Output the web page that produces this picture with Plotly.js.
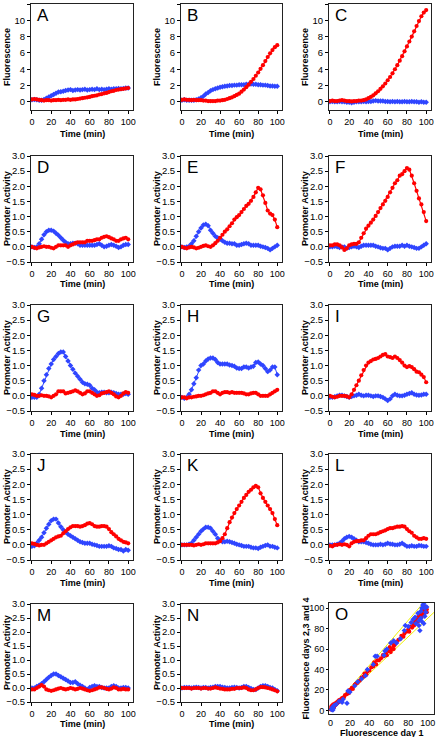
<!DOCTYPE html>
<html><head><meta charset="utf-8">
<script src="https://cdn.plot.ly/plotly-3.0.1.min.js"></script>
<style>html,body{margin:0;padding:0;background:#fff;} #chart{width:436px;height:737px;}</style>
</head><body><div id="chart"></div>
<script>
// time points (min)
const minutes = [0,2.5,5,7.5,10,12.5,15,17.5,20,22.5,25,27.5,30,32.5,35,37.5,40,42.5,45,47.5,50,52.5,55,57.5,60,62.5,65,67.5,70,72.5,75,77.5,80,82.5,85,87.5,90,92.5,95,97.5,100];

// Fluorescence panels A-C
const aBlue = [0.25,0.3,0.25,0.2,0.2,0.3,0.45,0.6,0.75,0.9,1.05,1.2,1.25,1.3,1.4,1.45,1.5,1.4,1.45,1.5,1.45,1.5,1.55,1.45,1.5,1.55,1.5,1.6,1.5,1.55,1.5,1.55,1.6,1.55,1.6,1.6,1.65,1.6,1.65,1.7,1.7];
const aRed  = [0.3,0.35,0.3,0.25,0.2,0.15,0.2,0.2,0.15,0.2,0.2,0.25,0.2,0.25,0.25,0.3,0.25,0.3,0.3,0.35,0.4,0.45,0.5,0.55,0.6,0.7,0.75,0.8,0.9,0.95,1.05,1.1,1.2,1.3,1.35,1.45,1.5,1.55,1.6,1.65,1.7];
const bBlue = [0.2,0.25,0.2,0.2,0.2,0.2,0.25,0.35,0.5,0.7,0.95,1.15,1.35,1.5,1.6,1.7,1.8,1.85,1.9,1.95,2.0,2.0,2.05,2.05,2.1,2.1,2.1,2.15,2.15,2.2,2.15,2.15,2.1,2.1,2.05,2.05,2.0,1.95,1.95,1.9,1.9];
const bRed  = [0.25,0.3,0.25,0.25,0.2,0.25,0.2,0.2,0.2,0.15,0.15,0.1,0.1,0.1,0.1,0.15,0.15,0.2,0.25,0.35,0.45,0.55,0.7,0.85,1.0,1.25,1.5,1.8,2.1,2.45,2.8,3.2,3.6,4.05,4.5,5.0,5.5,5.95,6.35,6.7,6.95];
const cBlue = [0.0,0.05,0.0,0.0,0.05,0.0,0.0,-0.05,-0.05,-0.1,-0.05,0.0,0.0,0.0,0.05,0.0,0.05,0.05,0.1,0.15,0.1,0.1,0.1,0.05,0.05,0.0,0.05,0.0,0.05,0.0,0.0,0.05,0.0,0.0,0.05,0.0,0.0,-0.05,0.0,-0.05,-0.05];
const cRed  = [0.1,0.15,0.1,0.1,0.15,0.2,0.15,0.1,0.1,0.05,0.1,0.1,0.15,0.15,0.2,0.3,0.45,0.6,0.8,1.05,1.3,1.6,1.9,2.25,2.65,3.05,3.5,4.0,4.5,5.05,5.6,6.2,6.8,7.4,8.0,8.65,9.3,9.9,10.5,10.95,11.25];

// Promoter activity panels D-N
const dBlue = [0.0,-0.02,0.0,0.1,0.25,0.4,0.5,0.55,0.55,0.52,0.45,0.38,0.3,0.22,0.15,0.1,0.1,0.12,0.12,0.1,0.05,0.05,0.05,0.05,0.05,0.05,0.05,0.08,0.1,0.05,0.0,0.02,0.05,0.08,0.05,0.02,-0.02,0.0,0.05,0.08,0.08];
const dRed  = [0.0,-0.03,-0.05,-0.02,0.0,0.02,0.0,0.0,-0.03,-0.05,0.0,0.05,0.05,0.05,0.05,0.0,0.05,0.08,0.12,0.15,0.15,0.15,0.15,0.2,0.2,0.2,0.22,0.25,0.25,0.3,0.33,0.35,0.32,0.28,0.25,0.2,0.2,0.25,0.28,0.3,0.25];
const eBlue = [0.0,-0.02,0.0,0.02,0.1,0.2,0.35,0.5,0.62,0.72,0.75,0.7,0.55,0.45,0.35,0.3,0.25,0.2,0.15,0.12,0.12,0.1,0.1,0.05,0.05,0.08,0.1,0.12,0.1,0.05,0.05,0.05,0.05,0.02,0.0,-0.02,-0.05,-0.1,-0.05,0.0,0.05];
const eRed  = [0.0,-0.03,-0.05,-0.02,0.0,-0.02,-0.05,-0.03,0.0,0.03,0.05,0.02,0.0,0.05,0.12,0.2,0.3,0.4,0.5,0.58,0.68,0.78,0.9,0.98,1.05,1.15,1.25,1.35,1.42,1.52,1.65,1.8,1.95,1.9,1.7,1.45,1.2,1.1,1.05,0.9,0.65];
const fBlue = [0.0,0.0,0.02,0.0,-0.02,0.0,0.0,-0.05,-0.02,0.0,0.02,0.0,-0.02,0.02,0.05,0.05,0.05,0.05,0.05,0.02,0.0,-0.03,-0.05,-0.05,-0.1,-0.05,0.0,0.02,0.02,0.02,0.05,0.02,0.05,0.02,0.0,-0.02,-0.05,-0.05,0.0,0.05,0.1];
const fRed  = [0.05,0.05,0.08,0.08,0.05,-0.02,-0.1,-0.05,0.05,0.08,0.1,0.1,0.15,0.3,0.45,0.6,0.7,0.8,0.9,1.02,1.15,1.28,1.4,1.52,1.65,1.8,1.95,2.1,2.2,2.35,2.4,2.5,2.6,2.55,2.35,2.1,1.85,1.6,1.4,1.15,0.85];
const gBlue = [-0.05,-0.05,-0.05,0.05,0.25,0.5,0.7,0.9,1.05,1.2,1.3,1.4,1.45,1.45,1.3,1.15,1.0,0.88,0.75,0.65,0.55,0.45,0.4,0.38,0.35,0.25,0.2,0.12,0.1,0.12,0.12,0.1,0.1,0.12,0.1,0.08,0.05,0.05,0.05,0.08,0.05];
const gRed  = [0.05,0.03,0.0,0.0,0.02,0.0,0.0,-0.02,-0.05,0.0,0.05,0.15,0.15,0.15,0.08,0.1,0.12,0.15,0.18,0.15,0.1,0.05,0.08,0.15,0.15,0.1,0.05,0.0,0.02,0.08,0.1,0.12,0.15,0.1,0.05,-0.02,-0.05,0.0,0.08,0.12,0.1];
const hBlue = [-0.05,-0.08,-0.05,0.05,0.2,0.4,0.6,0.85,1.0,1.05,1.15,1.22,1.25,1.25,1.2,1.1,1.05,1.05,1.05,1.05,1.02,1.0,0.98,0.92,0.9,0.9,0.95,0.95,0.92,0.95,0.98,1.1,1.12,1.05,1.0,0.9,0.8,0.85,0.95,0.95,0.7];
const hRed  = [-0.05,-0.05,-0.08,-0.05,-0.05,-0.03,-0.02,0.0,0.0,0.02,0.05,0.08,0.1,0.15,0.15,0.1,0.05,0.1,0.12,0.12,0.1,0.12,0.1,0.1,0.1,0.1,0.08,0.05,0.05,0.08,0.1,0.1,0.05,0.0,0.0,0.0,0.0,0.05,0.1,0.15,0.2];
const iBlue = [-0.05,-0.05,-0.03,0.0,0.02,0.02,0.0,-0.02,-0.05,-0.02,0.0,0.02,0.05,0.02,0.0,0.02,0.02,0.0,-0.02,0.0,0.0,-0.02,-0.05,-0.1,-0.15,-0.1,0.0,0.05,0.02,0.0,0.0,0.02,0.05,0.08,0.1,0.05,0.03,0.02,0.03,0.05,0.05];
const iRed  = [0.0,-0.03,-0.05,-0.03,0.0,0.0,0.0,-0.02,-0.05,0.05,0.2,0.35,0.5,0.68,0.85,1.0,1.1,1.15,1.2,1.22,1.25,1.3,1.35,1.38,1.3,1.28,1.25,1.3,1.25,1.18,1.1,1.0,0.95,0.98,0.95,0.88,0.8,0.78,0.7,0.62,0.45];
const jBlue = [-0.05,-0.03,0.05,0.15,0.25,0.4,0.55,0.68,0.8,0.85,0.85,0.72,0.6,0.5,0.42,0.35,0.3,0.25,0.2,0.15,0.1,0.08,0.05,0.05,0.05,0.02,0.0,-0.02,-0.05,-0.05,-0.05,-0.05,-0.03,-0.05,-0.1,-0.12,-0.15,-0.15,-0.2,-0.15,-0.18];
const jRed  = [0.05,0.03,0.0,-0.02,0.0,0.0,0.05,0.1,0.15,0.2,0.25,0.28,0.3,0.38,0.45,0.52,0.58,0.62,0.62,0.62,0.6,0.62,0.65,0.7,0.72,0.68,0.62,0.6,0.6,0.62,0.62,0.6,0.52,0.42,0.35,0.28,0.2,0.15,0.1,0.08,0.05];
const kBlue = [0.0,0.0,0.0,0.02,0.05,0.15,0.25,0.35,0.45,0.52,0.58,0.58,0.55,0.45,0.35,0.22,0.15,0.1,0.1,0.12,0.1,0.08,0.05,0.02,0.0,-0.02,-0.05,-0.05,-0.05,-0.08,-0.1,-0.1,-0.12,-0.08,-0.05,-0.02,0.0,-0.05,-0.05,-0.08,-0.1];
const kRed  = [0.0,0.0,0.0,0.0,0.0,-0.02,0.0,0.02,0.0,0.02,0.05,0.05,0.05,0.05,0.05,0.08,0.12,0.22,0.35,0.55,0.75,0.9,1.05,1.18,1.3,1.42,1.55,1.65,1.75,1.82,1.9,1.95,1.9,1.7,1.55,1.42,1.3,1.18,1.05,0.85,0.65];
const lBlue = [0.0,0.0,0.0,0.02,0.05,0.12,0.2,0.25,0.28,0.25,0.2,0.15,0.1,0.1,0.1,0.08,0.05,0.02,0.0,0.0,0.0,0.02,0.0,0.02,0.05,0.03,0.02,0.0,0.0,0.02,0.05,0.0,-0.05,-0.05,-0.03,-0.05,-0.05,-0.02,-0.03,-0.05,-0.05];
const lRed  = [-0.03,-0.05,0.0,0.0,0.02,0.0,0.02,0.0,-0.05,0.05,0.1,0.12,0.12,0.15,0.15,0.22,0.3,0.35,0.35,0.35,0.38,0.42,0.45,0.48,0.52,0.55,0.55,0.58,0.6,0.6,0.62,0.6,0.52,0.45,0.4,0.3,0.25,0.2,0.2,0.22,0.2];
const mBlue = [0.0,0.0,0.05,0.1,0.15,0.22,0.3,0.38,0.45,0.5,0.5,0.45,0.4,0.35,0.3,0.25,0.2,0.2,0.22,0.15,0.1,0.05,0.0,-0.05,0.02,0.05,0.08,0.05,0.05,0.02,0.0,0.0,0.0,0.05,0.08,0.05,0.0,0.0,0.02,0.02,0.0];
const mRed  = [-0.05,-0.05,0.0,0.05,0.1,0.05,-0.05,-0.08,-0.1,-0.08,-0.05,-0.02,0.0,-0.03,-0.05,-0.03,0.0,-0.02,-0.05,-0.03,0.0,-0.02,-0.05,-0.08,-0.1,-0.08,-0.05,-0.02,0.02,0.02,0.0,-0.03,-0.05,-0.02,0.02,0.0,-0.05,-0.05,-0.03,-0.05,-0.05];
const nBlue = [0.0,0.02,0.02,0.02,0.0,0.02,0.03,0.02,0.0,0.02,0.02,0.0,0.02,0.03,0.05,0.05,0.05,0.03,0.02,0.0,0.0,0.02,0.03,0.02,0.0,0.02,0.05,0.05,0.02,-0.02,-0.05,-0.05,0.0,0.05,0.08,0.08,0.05,0.02,0.0,-0.05,-0.1];
const nRed  = [0.0,0.0,0.0,0.0,-0.02,0.0,0.0,0.0,-0.02,0.0,0.0,-0.02,-0.02,0.0,0.02,0.0,-0.02,-0.03,-0.05,-0.05,-0.05,-0.03,-0.03,0.0,0.0,0.0,0.02,0.0,-0.05,-0.08,-0.08,-0.05,0.0,0.03,0.03,0.02,0.0,-0.02,-0.05,-0.08,-0.12];

// Panel O: fluorescence day 1 vs days 2,3 and 4
const oRedX = [0.5,1,1,1.5,2,2,2.5,3,3,3.5,4,4.5,5,5,6,6.5,7,7.5,8,8.5,9,10,10,11,12,13,14,15,17,18,19,20,22,23,25,26,28,30,32,34,35,37,38,40,42,44,45,47,48,50,52,54,55,57,58,58,60,61,62,63,64,65,65,66,68,70,72,73,75,76,78,80,81,82,84,85,86,87,88,89,90,90,91,92,93,94,95,95,96,96,97,97,98,98,99,99];
const oRedY = [1,2,4,3,5,1,2.5,4,6,3,5,6,5,7,6,8,7,8,9,8,10,10,9,11,12,12,13,15,16,18,17,20,22,21,25,26,27,29,32,33,36,35,38,39,42,43,47,45,49,49,51,54,53,56,59,54,58,62,57,60,66,63,60,64,67,69,70,73,72,75,77,79,77,82,81,85,83,88,86,89,87,91,93,90,94,92,96,99,94,98,97,100,98,101,99,96];
const oBlueX = [1,2,2.5,3,4,6,9,12,13,17,18,20,25,28,32,36,38,44,46,48,55,56,58,62,65,68,72,76,77,80,83,85,87,88,90,91,91,92,93,93,94,94,95,96,96,97,97,98,99];
const oBlueY = [1,3,0.5,2,5,6,9,8,11,7,19,18,24,28,31,34,40,45,53,53,54,58,60,66,68,66,70,78,83,82,86,89,91,85,95,88,83,78,97,90,100,87,103,104,85,100,92,96,101];
const guideX = [0,110];
const guideHighY = [0,121];
const guideLowY = [0,99];

const timeTicks = [0,20,40,60,80,100];
const fluorTicks = [0,2,4,6,8,10,12];
const activityTicks = [-0.5,0,0.5,1,1.5,2,2.5,3];
const scatterTicks = [0,20,40,60,80,100];

const W = 436, H = 737;
const FONT = 'Liberation Sans, Arial, sans-serif';
const BLUE = '#2f45ff', RED = '#ff0000', YELLOW = '#f0f000';
const colPx = [[31,133],[181,282],[329,431]];
const rowPx = [[4,110],[156,262],[305,411],[454,560],[604,702]];
const xTitleY = [134,284,434,583,724];

const panels = [
  {letter:'A',row:0,col:0,blue:aBlue,red:aRed},
  {letter:'B',row:0,col:1,blue:bBlue,red:bRed},
  {letter:'C',row:0,col:2,blue:cBlue,red:cRed},
  {letter:'D',row:1,col:0,blue:dBlue,red:dRed},
  {letter:'E',row:1,col:1,blue:eBlue,red:eRed},
  {letter:'F',row:1,col:2,blue:fBlue,red:fRed},
  {letter:'G',row:2,col:0,blue:gBlue,red:gRed},
  {letter:'H',row:2,col:1,blue:hBlue,red:hRed},
  {letter:'I',row:2,col:2,blue:iBlue,red:iRed},
  {letter:'J',row:3,col:0,blue:jBlue,red:jRed},
  {letter:'K',row:3,col:1,blue:kBlue,red:kRed},
  {letter:'L',row:3,col:2,blue:lBlue,red:lRed},
  {letter:'M',row:4,col:0,blue:mBlue,red:mRed},
  {letter:'N',row:4,col:1,blue:nBlue,red:nRed}
];

function baseAxis(){
  return {ticks:'outside',ticklen:3,tickwidth:1,tickcolor:'#000',showline:true,mirror:true,
    linecolor:'#222',linewidth:1,showgrid:false,zeroline:false,fixedrange:true,
    tickfont:{family:FONT,size:9.5,color:'#000'}};
}
const layout = {width:W,height:H,margin:{l:0,r:0,t:0,b:0},paper_bgcolor:'#fff',plot_bgcolor:'#fff',
  showlegend:false,font:{family:FONT,color:'#000'},annotations:[]};
const traces = [];

function addTitles(x0,x1,y0,y1,xTitle,xTy,yTitle,letter){
  layout.annotations.push({xref:'paper',yref:'paper',x:(x0+x1)/2/W,y:1-xTy/H,xanchor:'center',yanchor:'middle',
    text:'<b>'+xTitle+'</b>',showarrow:false,font:{family:FONT,size:9,color:'#000'}});
  layout.annotations.push({xref:'paper',yref:'paper',x:(x0-24)/W,y:1-(y0+y1)/2/H,xanchor:'center',yanchor:'middle',
    textangle:-90,text:'<b>'+yTitle+'</b>',showarrow:false,font:{family:FONT,size:9,color:'#000'}});
  layout.annotations.push({xref:'paper',yref:'paper',x:(x0+4)/W,y:1-(y0+11.5)/H,xanchor:'left',yanchor:'middle',
    text:letter,showarrow:false,font:{family:FONT,size:17,color:'#000'}});
}

panels.forEach((p,i)=>{
  const n = i+1, sfx = n===1?'':String(n);
  const [x0,x1] = colPx[p.col], [y0,y1] = rowPx[p.row];
  const xa = Object.assign(baseAxis(),{domain:[x0/W,x1/W],anchor:'y'+sfx,range:[-1,105],tickvals:timeTicks,
    tickfont:{family:FONT,size:9,color:'#000'}});
  const ya = Object.assign(baseAxis(),{domain:[1-y1/H,1-y0/H],anchor:'x'+sfx});
  if(p.row===0){ Object.assign(ya,{range:[-1,12],tickvals:fluorTicks}); }
  else { Object.assign(ya,{range:[-0.5,3],tickvals:activityTicks,tickformat:'.1f'}); }
  layout['xaxis'+sfx] = xa; layout['yaxis'+sfx] = ya;
  traces.push({x:minutes,y:p.blue,xaxis:'x'+sfx,yaxis:'y'+sfx,type:'scatter',mode:'lines+markers',
    line:{color:BLUE,width:1},marker:{color:BLUE,size:4.2,symbol:'diamond'},cliponaxis:true});
  traces.push({x:minutes,y:p.red,xaxis:'x'+sfx,yaxis:'y'+sfx,type:'scatter',mode:'lines+markers',
    line:{color:RED,width:1.2},marker:{color:RED,size:4.2,symbol:'circle'},cliponaxis:true});
  addTitles(x0,x1,y0,y1,'Time (min)',xTitleY[p.row],p.row===0?'Fluorescence':'Promoter Activity',p.letter);
});

// Panel O
(function(){
  const x0=329,x1=434,y0=603,y1=714;
  layout.xaxis15 = Object.assign(baseAxis(),{domain:[x0/W,x1/W],anchor:'y15',range:[-1.5,106.5],tickvals:scatterTicks,ticks:'',
    tickfont:{family:FONT,size:9,color:'#000'}});
  layout.yaxis15 = Object.assign(baseAxis(),{domain:[1-y1/H,1-y0/H],anchor:'x15',range:[-3.5,105],tickvals:scatterTicks,ticklen:2,
    tickfont:{family:FONT,size:9,color:'#000'}});
  traces.push({x:guideX,y:guideHighY,xaxis:'x15',yaxis:'y15',type:'scatter',mode:'lines',line:{color:YELLOW,width:1}});
  traces.push({x:guideX,y:guideLowY,xaxis:'x15',yaxis:'y15',type:'scatter',mode:'lines',line:{color:YELLOW,width:1}});
  traces.push({x:oRedX,y:oRedY,xaxis:'x15',yaxis:'y15',type:'scatter',mode:'markers',marker:{color:RED,size:4.2,symbol:'circle'},cliponaxis:true});
  traces.push({x:oBlueX,y:oBlueY,xaxis:'x15',yaxis:'y15',type:'scatter',mode:'markers',marker:{color:BLUE,size:4.2,symbol:'diamond'},cliponaxis:true});
  addTitles(x0,x1,y0,y1,'Fluorescence day 1',732.5,'Fluorescence days 2,3 and 4','O');
})();

Plotly.newPlot('chart',traces,layout,{displayModeBar:false,staticPlot:true});
</script>
</body></html>
